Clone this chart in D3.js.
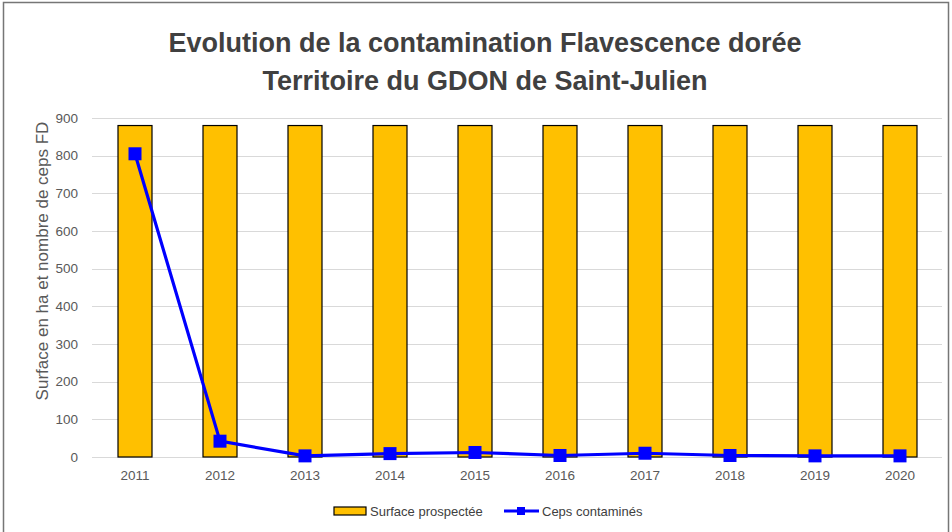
<!DOCTYPE html>
<html>
<head>
<meta charset="utf-8">
<script src="https://cdn.jsdelivr.net/npm/d3@7"></script>
<style>
  body { margin: 0; background: #fff; }
  svg { display: block; }
</style>
</head>
<body>
<svg id="chart" width="952" height="532"></svg>
<script>
const years = ['2011', '2012', '2013', '2014', '2015', '2016', '2017', '2018', '2019', '2020']
const surface = [880, 880, 880, 880, 880, 880, 880, 880, 880, 880]
const ceps = [805, 42, 3, 9, 12, 4, 10, 4, 3, 3]
const yTicks = [0, 100, 200, 300, 400, 500, 600, 700, 800, 900]

const svg = d3.select('#chart')
const font = 'Liberation Sans, Arial, sans-serif'

// outer frame
svg.append('rect')
  .attr('x', 3.5).attr('y', 2.5)
  .attr('width', 945).attr('height', 540)
  .attr('fill', '#fff').attr('stroke', '#767676').attr('stroke-width', 1.5)

// title
const title = svg.append('text')
  .attr('text-anchor', 'middle')
  .style('font-family', font)
  .style('font-weight', 'bold')
  .style('font-size', '27px')
  .attr('fill', '#404040')
title.append('tspan').attr('x', 485).attr('y', 52).text('Evolution de la contamination Flavescence dorée')
title.append('tspan').attr('x', 485).attr('y', 90).text('Territoire du GDON de Saint-Julien')

const x = d3.scaleBand().domain(years).range([92.5, 942.5]).paddingInner(0.6).paddingOuter(0.3)
const y = d3.scaleLinear().domain([0, 900]).range([457, 118])

// gridlines
svg.append('g')
  .selectAll('line')
  .data(yTicks)
  .join('line')
  .attr('x1', 92).attr('x2', 942)
  .attr('y1', d => Math.round(y(d)) + 0.5)
  .attr('y2', d => Math.round(y(d)) + 0.5)
  .attr('stroke', '#d9d9d9').attr('stroke-width', 1.2)

// y axis labels
const yAxis = svg.append('g')
  .attr('transform', 'translate(78,0)')
  .call(d3.axisLeft(y).tickValues(yTicks).tickSize(0).tickPadding(0))
yAxis.select('.domain').remove()
yAxis.selectAll('text')
  .style('font-family', font).style('font-size', '13.5px').attr('fill', '#595959')

// x axis labels
const xAxis = svg.append('g')
  .attr('transform', 'translate(0,457)')
  .call(d3.axisBottom(x).tickSize(0).tickPadding(13))
xAxis.select('.domain').remove()
xAxis.selectAll('text')
  .style('font-family', font).style('font-size', '13.5px').attr('fill', '#595959')

// y axis title
svg.append('text')
  .attr('transform', 'translate(48,261) rotate(-90)')
  .attr('text-anchor', 'middle')
  .style('font-family', font).style('font-size', '17px')
  .attr('fill', '#595959')
  .text('Surface en ha  et nombre de ceps FD')

// bars
svg.append('g')
  .selectAll('rect')
  .data(surface)
  .join('rect')
  .attr('x', (d, i) => x(years[i]))
  .attr('y', d => y(d))
  .attr('width', x.bandwidth())
  .attr('height', d => y(0) - y(d))
  .attr('fill', '#ffc000')
  .attr('stroke', '#000').attr('stroke-width', 1.2)

// line
const line = d3.line()
  .x((d, i) => x(years[i]) + x.bandwidth() / 2)
  .y(d => y(d))
svg.append('path')
  .datum(ceps)
  .attr('d', line)
  .attr('fill', 'none')
  .attr('stroke', '#0000ff').attr('stroke-width', 3.2)

svg.append('g')
  .selectAll('rect')
  .data(ceps)
  .join('rect')
  .attr('x', (d, i) => x(years[i]) + x.bandwidth() / 2 - 6.5)
  .attr('y', d => y(d) - 6.5)
  .attr('width', 13).attr('height', 13)
  .attr('fill', '#0000ff')

// legend
const legend = svg.append('g')
  .style('font-family', font).style('font-size', '13px')
legend.append('rect')
  .attr('x', 334).attr('y', 507).attr('width', 32).attr('height', 8)
  .attr('fill', '#ffc000').attr('stroke', '#000').attr('stroke-width', 1.2)
legend.append('text')
  .attr('x', 370).attr('y', 516).attr('fill', '#404040')
  .text('Surface prospectée')
legend.append('line')
  .attr('x1', 504).attr('x2', 539).attr('y1', 511).attr('y2', 511)
  .attr('stroke', '#0000ff').attr('stroke-width', 3)
legend.append('rect')
  .attr('x', 517).attr('y', 507).attr('width', 8).attr('height', 8)
  .attr('fill', '#0000ff')
legend.append('text')
  .attr('x', 542).attr('y', 516).attr('fill', '#404040')
  .text('Ceps contaminés')
</script>
</body>
</html>
